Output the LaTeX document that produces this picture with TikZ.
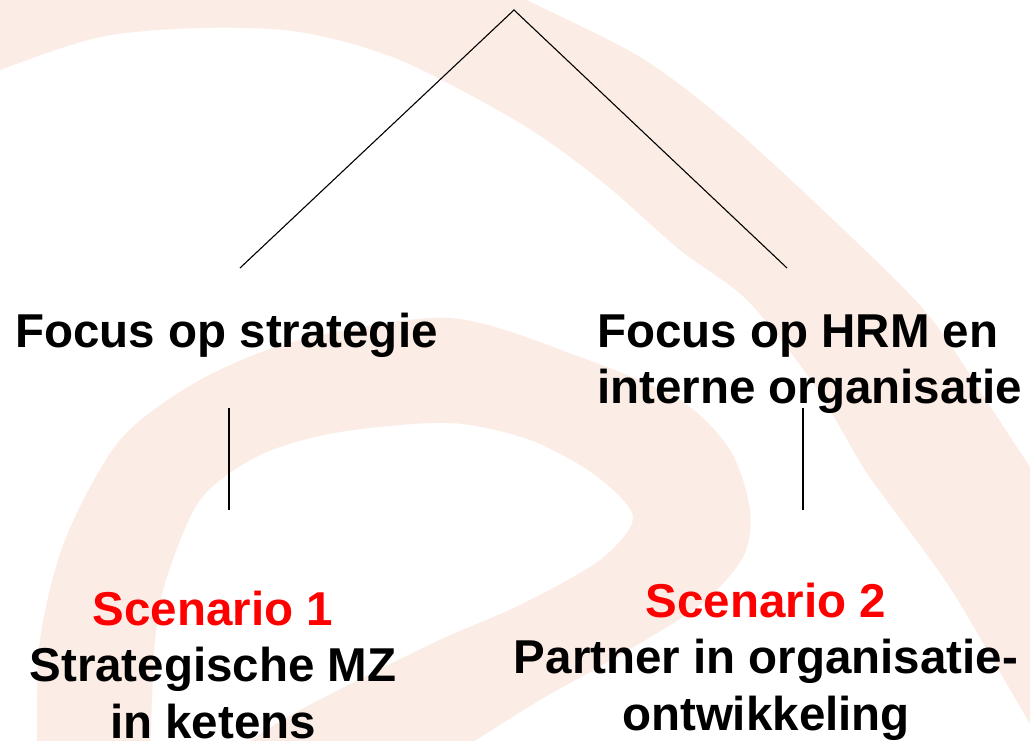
\documentclass[tikz,border=0pt]{standalone}
\usepackage{fontspec}
\setmainfont{Liberation Sans}
\definecolor{peach}{RGB}{251,236,229}
\definecolor{scred}{RGB}{255,0,0}
\begin{document}
\begin{tikzpicture}[x=1pt,y=-1pt,
  lbl/.style={inner sep=0pt, font=\fontsize{47.5}{56.5}\selectfont\bfseries},
  link/.style={line width=1.1pt, black}]
\useasboundingbox (0,0) rectangle (1030,741);
\begin{scope}
  \clip (0,0) rectangle (1030,741);
  \fill[white] (0,0) rectangle (1030,741);
  % upper arc band
  \fill[peach] plot[smooth] coordinates {(-10,78) (0,70) (100,37) (200,28) (300,32) (400,60) (520,123) (600,180) (680,250) (747,300) (813,383) (863,467) (890,505) (947,583) (997,667) (1045,750)}
    -- (1045,480)
    -- plot[smooth] coordinates {(1030,467) (997,417) (930,317) (847,233) (730,125) (640,57) (527,0) (510,-12)}
    -- (-10,-12) -- cycle;
  % lower loop band
  \fill[peach, even odd rule]
    plot[smooth] coordinates {(37,760) (37,741) (40,640) (65,540) (120,440) (200,380) (300,340) (450,318) (580,357) (680,400) (730,450) (750,510) (743,557) (700,605) (620,655) (540,700) (460,750) (440,760)} -- cycle
    plot[smooth] coordinates {(150,760) (152,700) (155,640) (165,583) (200,500) (260,455) (340,432) (450,423) (530,440) (595,475) (633,517) (600,560) (520,605) (433,643) (300,710) (245,745) (235,760)} -- cycle;
\end{scope}

\coordinate (top) at (514,10);
\coordinate (lend) at (240,268);
\coordinate (rend) at (787,268);
\coordinate (lv1) at (229,408);
\coordinate (lv2) at (229,510);
\coordinate (rv1) at (803,408);
\coordinate (rv2) at (803,510);

\draw[link] (lend) -- (top) -- (rend);
\draw[link] (lv1) -- (lv2);
\draw[link] (rv1) -- (rv2);

\node[lbl, anchor=base] (f1) at (226.5,347) {Focus op strategie};
\node[lbl, anchor=base west] (f2) at (597,347) {\begin{tabular}[t]{@{}l@{}}Focus op HRM en\\ interne organisatie\end{tabular}};
\node[lbl, anchor=base] (s1) at (213,625) {\begin{tabular}[t]{@{}c@{}}\textcolor{scred}{Scenario 1}\\ Strategische MZ\\ in ketens\end{tabular}};
\node[lbl, anchor=base] (s2) at (766,617) {\begin{tabular}[t]{@{}c@{}}\textcolor{scred}{Scenario 2}\\ Partner in organisatie-\\ ontwikkeling\end{tabular}};
\end{tikzpicture}
\end{document}
